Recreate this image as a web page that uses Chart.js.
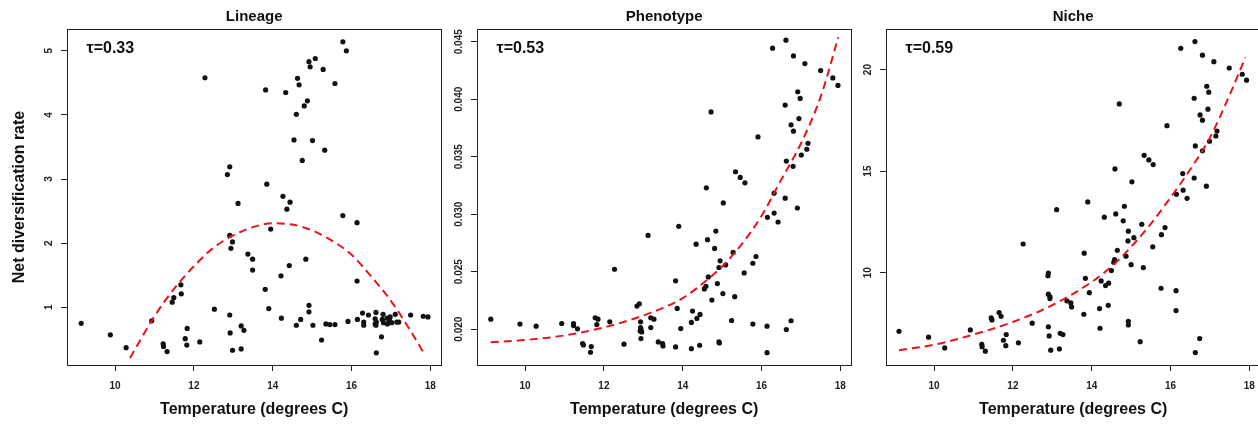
<!DOCTYPE html>
<html><head><meta charset="utf-8">
<script src="https://cdn.jsdelivr.net/npm/chart.js@4.4.1/dist/chart.umd.min.js"></script>
<style>
html,body{margin:0;padding:0;background:#fff;}
body{width:1258px;height:424px;overflow:hidden;position:relative;}
.p{position:absolute;top:0;width:445px;height:424px;}
</style>
</head><body>
<div class="p" style="left:0px"><canvas id="c1"></canvas></div>
<div class="p" style="left:410px"><canvas id="c2"></canvas></div>
<div class="p" style="left:819px"><canvas id="c3"></canvas></div>
<script>
const panelTitles = ['Lineage', 'Phenotype', 'Niche'];
const tauLabels = ['τ=0.33', 'τ=0.53', 'τ=0.59'];
const xTitle = 'Temperature (degrees C)';
const yTitle = 'Net diversification rate';
const xTickVals = [10, 12, 14, 16, 18];
const lineageYTicks = [1, 2, 3, 4, 5];
const phenoYTicks = [0.020, 0.025, 0.030, 0.035, 0.040, 0.045];
const nicheYTicks = [10, 15, 20];

// Lineage panel
const lineageTemp = [12.28,13.82,14.33,14.63,14.67,14.92,14.95,15.08,15.28,15.58,15.78,15.87,14.88,14.80,14.60,14.54,15.01,15.32,14.75,12.91,12.85,13.85,14.26,14.44,13.12,14.36,
15.78,16.14,13.95,12.91,12.98,12.94,13.37,13.49,14.84,14.42,13.49,14.21,16.14,11.67,13.81,11.68,11.49,11.45,14.92,12.52,13.90,14.92,16.28,16.62,16.43,16.80,17.11,17.50,17.82,17.94,
12.91,14.22,14.71,15.91,16.15,16.31,16.31,16.60,16.60,16.63,16.78,16.81,16.91,16.90,16.96,16.96,17.02,17.15,17.20,16.76,16.63,16.98,16.62,
9.14,9.88,10.28,10.93,11.22,11.23,11.32,11.78,11.83,11.82,12.15,12.92,12.98,13.20,13.27,13.20,14.60,15.02,15.24,15.35,15.45,15.58];
const lineageRate = [4.58,4.39,4.35,4.57,4.47,4.83,4.75,4.88,4.71,4.49,5.14,5.00,4.22,4.14,4.01,3.61,3.60,3.45,3.29,3.19,3.07,2.92,2.73,2.64,2.62,2.53,
2.43,2.32,2.22,2.12,2.02,1.92,1.83,1.75,1.75,1.65,1.58,1.49,1.41,1.35,1.28,1.21,1.15,1.08,1.03,0.97,0.98,0.93,0.91,0.92,0.88,0.89,0.89,0.88,0.86,0.85,
0.88,0.83,0.81,0.78,0.81,0.77,0.72,0.82,0.74,0.77,0.81,0.76,0.74,0.83,0.82,0.78,0.76,0.77,0.77,0.54,0.29,0.85,0.72,
0.75,0.57,0.37,0.79,0.43,0.39,0.31,0.51,0.67,0.41,0.46,0.60,0.33,0.71,0.64,0.35,0.72,0.72,0.49,0.74,0.73,0.73];
const lineageFitTemp = [10.38,11.0,11.5,12.0,12.5,13.0,13.5,14.0,14.5,15.0,15.5,16.0,16.5,17.0,17.5,17.85];
const lineageFitRate = [0.21,0.86,1.29,1.64,1.93,2.12,2.25,2.31,2.29,2.20,2.04,1.82,1.48,1.10,0.63,0.27];

// Phenotype panel
const phenoTemp = [16.28,16.62,16.81,17.10,17.50,17.81,17.94,16.92,16.98,16.60,14.72,16.95,16.75,16.81,15.91,17.18,17.15,17.01,16.63,16.80,15.34,15.46,15.58,14.60,16.32,15.03,16.60,16.91,
16.15,16.32,16.42,13.90,13.12,14.84,14.63,14.34,14.81,15.28,15.86,14.95,15.78,15.09,12.27,14.92,15.56,14.65,13.82,14.88,14.59,14.55,15.02,15.32,14.74,12.90,12.84,13.86,14.25,14.44,14.36,
13.19,13.27,9.13,11.78,11.85,12.15,12.93,15.24,16.75,9.87,10.93,11.23,11.23,11.82,14.22,15.78,10.28,11.33,13.19,12.93,12.94,12.92,12.96,12.94,13.95,16.14,16.63,
11.46,11.48,11.68,11.66,12.51,13.38,13.49,13.50,13.82,14.22,14.43,14.92,14.93,16.14];
const phenoRate = [0.04444,0.04514,0.04377,0.04310,0.04249,0.04185,0.04120,0.04065,0.04007,0.03949,0.03890,0.03832,0.03777,0.03722,0.03672,0.03617,0.03565,0.03515,0.03462,0.03416,0.03369,0.03320,0.03273,0.03229,0.03183,0.03098,0.03139,0.03054,
0.02973,0.03010,0.02932,0.02894,0.02815,0.02853,0.02778,0.02739,0.02702,0.02667,0.02632,0.02594,0.02573,0.02559,0.02521,0.02536,0.02489,0.02454,0.02420,0.02396,0.02372,0.02350,0.02309,0.02282,0.02253,0.02221,0.02201,0.02180,0.02157,0.02128,0.02093,
0.02099,0.02087,0.02087,0.02099,0.02087,0.02064,0.02064,0.02075,0.02073,0.02044,0.02049,0.02049,0.02031,0.02040,0.02058,0.02044,0.02026,0.02003,0.02014,0.02014,0.02003,0.01983,0.01976,0.01918,0.02005,0.02026,0.01997,
0.01874,0.01863,0.01848,0.01799,0.01869,0.01889,0.01874,0.01854,0.01845,0.01830,0.01860,0.01889,0.01880,0.01795];
const phenoFitTemp = [9.13,10.0,11.0,12.0,12.8,13.5,14.0,14.5,15.0,15.5,16.0,16.5,17.0,17.5,17.95];
const phenoFitRate = [0.01885,0.01905,0.01945,0.02015,0.02095,0.02185,0.02270,0.02395,0.02545,0.02740,0.02985,0.03300,0.03615,0.04020,0.04540];

// Niche panel
const nicheTemp = [16.26,16.62,16.81,17.10,17.49,17.82,17.93,16.92,16.97,16.60,14.70,16.95,16.75,16.81,15.91,17.18,17.15,16.99,16.63,16.81,15.33,15.45,15.56,14.59,16.31,16.60,15.02,16.32,16.91,16.15,16.42,13.90,14.83,13.11,
14.32,14.61,14.80,15.27,15.86,14.93,15.77,15.07,14.92,12.26,15.55,14.65,13.81,14.87,14.58,14.56,15.00,15.31,14.50,12.90,12.89,13.84,14.24,14.43,14.35,15.76,16.14,13.94,12.90,12.94,12.94,13.37,13.47,13.49,14.20,14.42,16.14,
11.65,11.70,11.45,11.47,13.80,12.49,12.90,14.21,14.93,14.93,9.11,10.92,9.86,10.27,11.21,11.22,11.30,11.83,11.76,11.82,12.14,12.92,12.96,13.20,13.27,13.18,15.23,16.63,16.74];
const nicheRate = [21.05,21.38,20.71,20.39,20.08,19.77,19.48,19.18,18.89,18.59,18.31,18.05,17.77,17.51,17.24,16.97,16.73,16.47,16.24,16.00,15.78,15.55,15.32,15.11,14.88,14.66,14.47,14.06,14.26,13.86,13.66,13.48,13.27,13.10,
12.73,12.89,12.55,12.38,12.22,12.04,11.87,11.72,11.56,11.41,11.27,11.10,10.96,10.81,10.64,10.51,10.39,10.25,10.10,9.98,9.85,9.72,9.59,9.48,9.36,9.23,9.11,9.01,8.94,8.82,8.72,8.61,8.51,8.31,8.23,8.39,8.13,
8.03,7.85,7.77,7.67,7.95,7.51,7.33,7.26,7.60,7.42,7.11,7.18,6.82,6.29,6.47,6.35,6.13,6.95,6.67,6.40,6.54,6.88,6.18,7.01,6.95,6.24,6.60,6.06,6.75];
const nicheFitTemp = [9.11,10.0,11.0,12.0,13.0,14.0,14.5,15.0,15.5,16.0,16.5,17.0,17.5,17.9];
const nicheFitRate = [6.18,6.45,6.95,7.57,8.40,9.54,10.30,11.27,12.40,13.70,15.08,16.65,18.75,20.60];

const FONT = "'Liberation Sans', Arial, Helvetica, sans-serif";
const INK = '#111';

function pairs(xs, ys) { return xs.map((x, i) => ({x: x, y: ys[i]})); }

const boxPlugin = {
  id: 'boxLabels',
  afterDraw(chart, args, opts) {
    const ctx = chart.ctx, a = chart.chartArea, ys = chart.scales.y;
    ctx.save();
    ctx.strokeStyle = '#222';
    ctx.lineWidth = 1;
    ctx.strokeRect(Math.round(a.left) + 0.5, Math.round(a.top) + 0.5,
                   Math.round(a.right - a.left), Math.round(a.bottom - a.top));
    ctx.fillStyle = '#222';
    ctx.font = 'bold 10px ' + FONT;
    ctx.textAlign = 'center';
    ctx.textBaseline = 'middle';
    opts.yTicks.forEach(v => {
      const p = ys.getPixelForValue(v);
      ctx.save();
      ctx.translate(a.left - 17.5, p);
      ctx.rotate(-Math.PI / 2);
      ctx.fillText(v.toFixed(opts.decimals), 0, 0);
      ctx.restore();
    });
    ctx.fillStyle = INK;
    ctx.font = 'bold 16px ' + FONT;
    ctx.textAlign = 'left';
    ctx.textBaseline = 'middle';
    ctx.fillText(opts.tau, a.left + 19.5, 49);
    ctx.restore();
  }
};

function makeChart(id, title, tau, temp, rate, fitT, fitR, yMin, yMax, yTicks, decimals, showYTitle) {
  const gridOpts = { display: true, drawOnChartArea: false, drawTicks: true, tickLength: 6, color: '#222', lineWidth: 1 };
  new Chart(document.getElementById(id), {
    type: 'scatter',
    data: {
      datasets: [
        { data: pairs(temp, rate), pointRadius: 2.6, pointHoverRadius: 2.6, pointBackgroundColor: INK, pointBorderWidth: 0, showLine: false, order: 2 },
        { data: pairs(fitT, fitR), showLine: true, borderColor: '#e8141c', borderWidth: 2, borderDash: [8, 5],
          pointRadius: 0, cubicInterpolationMode: 'monotone', fill: false, order: 1 }
      ]
    },
    options: {
      responsive: true, maintainAspectRatio: false, animation: false,
      layout: { padding: { left: 0, right: 3, top: 0, bottom: 0 } },
      plugins: {
        legend: { display: false },
        tooltip: { enabled: false },
        title: { display: true, text: title, fullSize: false, color: INK,
                 font: { size: 15, weight: 'bold', family: FONT }, padding: { top: 8, bottom: 3 } },
        boxLabels: { yTicks: yTicks, decimals: decimals, tau: tau }
      },
      scales: {
        x: {
          type: 'linear', min: 8.78, max: 18.28,
          afterBuildTicks: s => { s.ticks = xTickVals.map(v => ({ value: v })); },
          afterFit: s => { s.height = 59; },
          grid: gridOpts,
          border: { display: false },
          ticks: { padding: 9, color: '#222', maxRotation: 0, autoSkip: false,
                   font: { size: 10, weight: 'bold', family: FONT } },
          title: { display: true, text: xTitle, color: INK,
                   font: { size: 16, weight: 'bold', family: FONT }, padding: { top: 0, bottom: 5 } }
        },
        y: {
          type: 'linear', min: yMin, max: yMax,
          afterBuildTicks: s => { s.ticks = yTicks.map(v => ({ value: v })); },
          afterFit: s => { s.width = 67; },
          grid: gridOpts,
          border: { display: false },
          ticks: { display: false },
          title: { display: showYTitle, text: yTitle, color: INK,
                   font: { size: 16, weight: 'bold', family: FONT }, padding: { top: 10, bottom: 0 } }
        }
      }
    },
    plugins: [boxPlugin]
  });
}

makeChart('c1', panelTitles[0], tauLabels[0], lineageTemp, lineageRate, lineageFitTemp, lineageFitRate, 0.10, 5.34, lineageYTicks, 0, true);
makeChart('c2', panelTitles[1], tauLabels[1], phenoTemp, phenoRate, phenoFitTemp, phenoFitRate, 0.01688, 0.04611, phenoYTicks, 3, false);
makeChart('c3', panelTitles[2], tauLabels[2], nicheTemp, nicheRate, nicheFitTemp, nicheFitRate, 5.45, 22.0, nicheYTicks, 0, false);
</script>
</body></html>
